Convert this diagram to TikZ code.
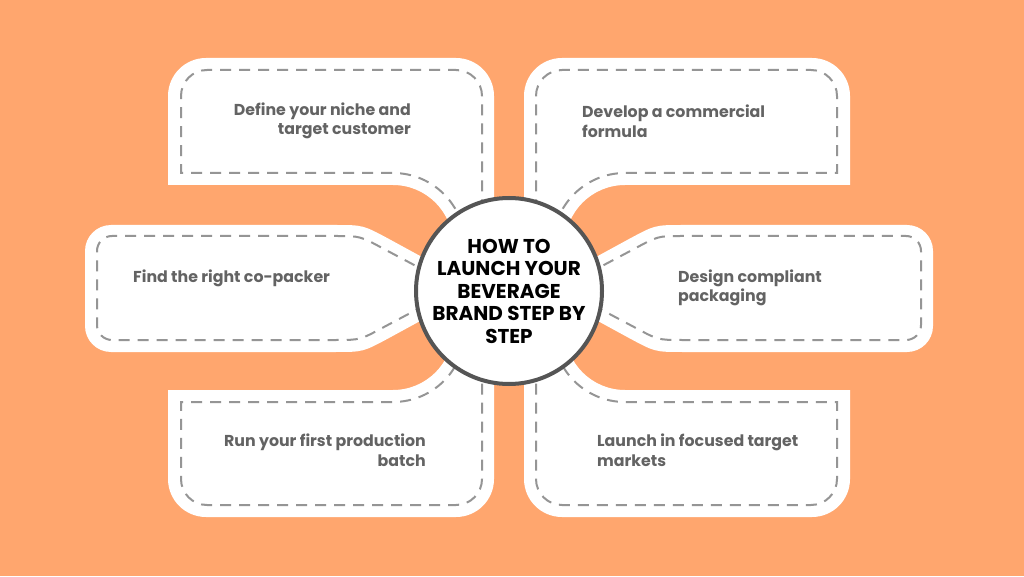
\documentclass[tikz,border=0pt]{standalone}
\usepackage{fontspec}
\setmainfont{Poppins}
\usepackage{tikz}

\definecolor{bgorange}{HTML}{FFA66E}
\definecolor{stitchgray}{HTML}{959595}
\definecolor{ringgray}{HTML}{555555}
\definecolor{textgray}{HTML}{636363}

% one side of the picture: top, middle and bottom wing
\newcommand{\wings}{%
  \fill[wing] (168,391) -- (168,480) arc[start angle=180,end angle=90,radius=38] -- (456,518) arc[start angle=90,end angle=0,radius=38] -- (494,300) -- (453,331) arc[start angle=0,end angle=90,radius=60] -- cycle;
  \draw[stitch] (465,331) arc[start angle=0,end angle=90,radius=72] -- (181,403) -- (181,480) arc[start angle=180,end angle=90,radius=26] -- (456,506) arc[start angle=90,end angle=0,radius=26] -- (482,290);
  \fill[wing] (455,301) -- (389,337) .. controls (363,351) .. (335,351) -- (111,351) arc[start angle=90,end angle=180,radius=26] -- (85,250) arc[start angle=180,end angle=270,radius=26] -- (335,224) .. controls (363,224) .. (389,238) -- (455,274) -- cycle;
  \draw[stitch] (448,293) -- (384,327) .. controls (360,340) .. (336,340) -- (112,340) arc[start angle=90,end angle=180,radius=15] -- (97,251) arc[start angle=180,end angle=270,radius=15] -- (336,236) .. controls (360,236) .. (384,249) -- (448,283);
  \fill[wing] (168,186) -- (168,97) arc[start angle=180,end angle=270,radius=38] -- (456,59) arc[start angle=270,end angle=360,radius=38] -- (494,270) -- (453,246) arc[start angle=0,end angle=-90,radius=60] -- cycle;
  \draw[stitch] (465,246) arc[start angle=0,end angle=-90,radius=72] -- (181,174) -- (181,97) arc[start angle=180,end angle=270,radius=26] -- (456,71) arc[start angle=270,end angle=360,radius=26] -- (482,280);
}

\begin{document}
\begin{tikzpicture}[x=1pt,y=1pt,
  wing/.style={fill=white},
  stitch/.style={draw=stitchgray,line width=2pt,dash pattern=on 11pt off 8pt},
  hub/.style={circle,fill=white,draw=ringgray,line width=4pt,minimum size=186pt,inner sep=0pt},
  hubtext/.style={align=center,inner sep=0pt,font=\fontsize{20}{22.5}\selectfont\bfseries},
  steptext/.style={inner sep=0pt,text=textgray,font=\fontsize{15.8}{19.5}\selectfont\bfseries}]
  \fill[bgorange] (0,0) rectangle (1024,576);
  \useasboundingbox (0,0) rectangle (1024,576);

  \wings
  \begin{scope}[shift={(1018,0)},xscale=-1]
    \wings
  \end{scope}

  \node[hub] (hub) at (509,285) {};
  \node[hubtext] (title) at (hub.center) {HOW TO\\LAUNCH YOUR\\BEVERAGE\\BRAND STEP BY\\STEP};

  \node[steptext,anchor=east,align=right] (niche) at (411,455) {Define your niche and\\target customer};
  \node[steptext,anchor=west,align=left] (formula) at (582,455) {Develop a commercial\\formula};
  \node[steptext,anchor=west,align=left] (copacker) at (133,298) {Find the right co-packer};
  \node[steptext,anchor=west,align=left] (packaging) at (678,288) {Design compliant\\packaging};
  \node[steptext,anchor=east,align=right] (batch) at (426,126) {Run your first production\\batch};
  \node[steptext,anchor=west,align=left] (markets) at (597,126) {Launch in focused target\\markets};
\end{tikzpicture}
\end{document}
